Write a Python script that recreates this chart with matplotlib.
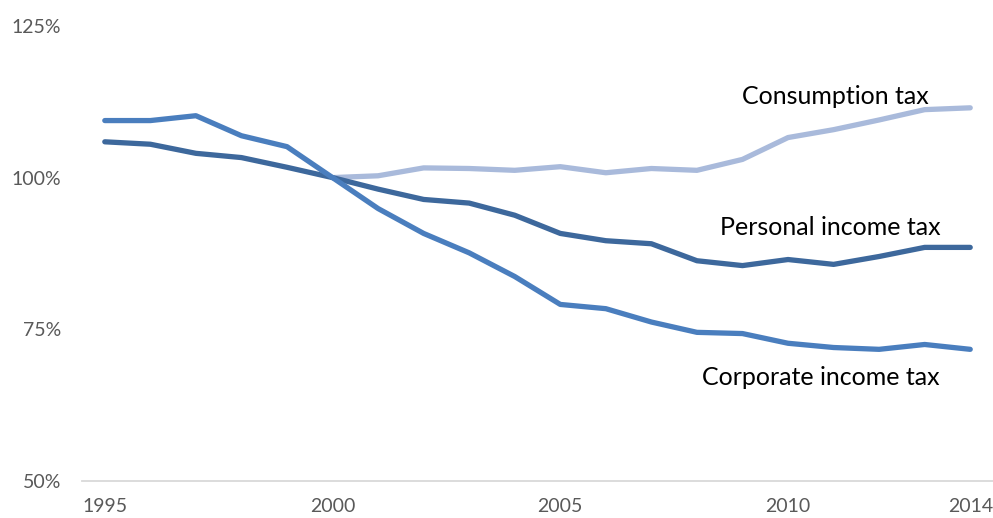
import numpy as np
import matplotlib
matplotlib.use('Agg')
import matplotlib.pyplot as plt

plt.rcParams['font.family'] = ['Lato', 'DejaVu Sans']

years = list(range(1995, 2015))
corporate = [109.4, 109.4, 110.2, 106.9, 105.1, 100.0, 94.9, 90.8, 87.6, 83.7,
             79.1, 78.4, 76.2, 74.5, 74.3, 72.7, 72.0, 71.7, 72.5, 71.7]
personal = [105.9, 105.5, 104.0, 103.3, 101.7, 100.0, 98.1, 96.4, 95.8, 93.8,
            90.8, 89.6, 89.1, 86.3, 85.5, 86.5, 85.7, 87.0, 88.5, 88.5]
consumption_years = list(range(2000, 2015))
consumption = [100.0, 100.3, 101.6, 101.5, 101.2, 101.8, 100.8, 101.5, 101.2,
               103.0, 106.6, 107.9, 109.5, 111.2, 111.5]

fig = plt.figure(figsize=(9.93, 5.18), dpi=100)
ax = fig.add_axes([0.0826, 0.0714, 0.9174, 0.8786])

ax.plot(consumption_years, consumption, color='#a9badb', lw=3.8, solid_capstyle='round')
ax.plot(years, personal, color='#3d689c', lw=3.8, solid_capstyle='round')
ax.plot(years, corporate, color='#4a7ebe', lw=3.8, solid_capstyle='round')

ax.text(2011.04, 112.2, 'Consumption tax', fontsize=18, ha='center', va='baseline')
ax.text(2010.93, 90.6, 'Personal income tax', fontsize=18, ha='center', va='baseline')
ax.text(2010.71, 65.8, 'Corporate income tax', fontsize=18, ha='center', va='baseline')

ax.set_xlim(1994.5, 2014.5)
ax.set_ylim(50, 125)
ax.set_yticks([50, 75, 100, 125])
ax.set_yticklabels(['50%', '75%', '100%', '125%'])
ax.set_xticks([1995, 2000, 2005, 2010, 2014])

for s in ['top', 'right', 'left']:
    ax.spines[s].set_visible(False)
ax.spines['bottom'].set_color('#d9d9d9')
ax.spines['bottom'].set_linewidth(1.3)
ax.tick_params(axis='both', length=0, labelsize=14, labelcolor='#595959')
ax.tick_params(axis='y', pad=15)
ax.tick_params(axis='x', pad=12)

fig.savefig('out.png', dpi=100)
